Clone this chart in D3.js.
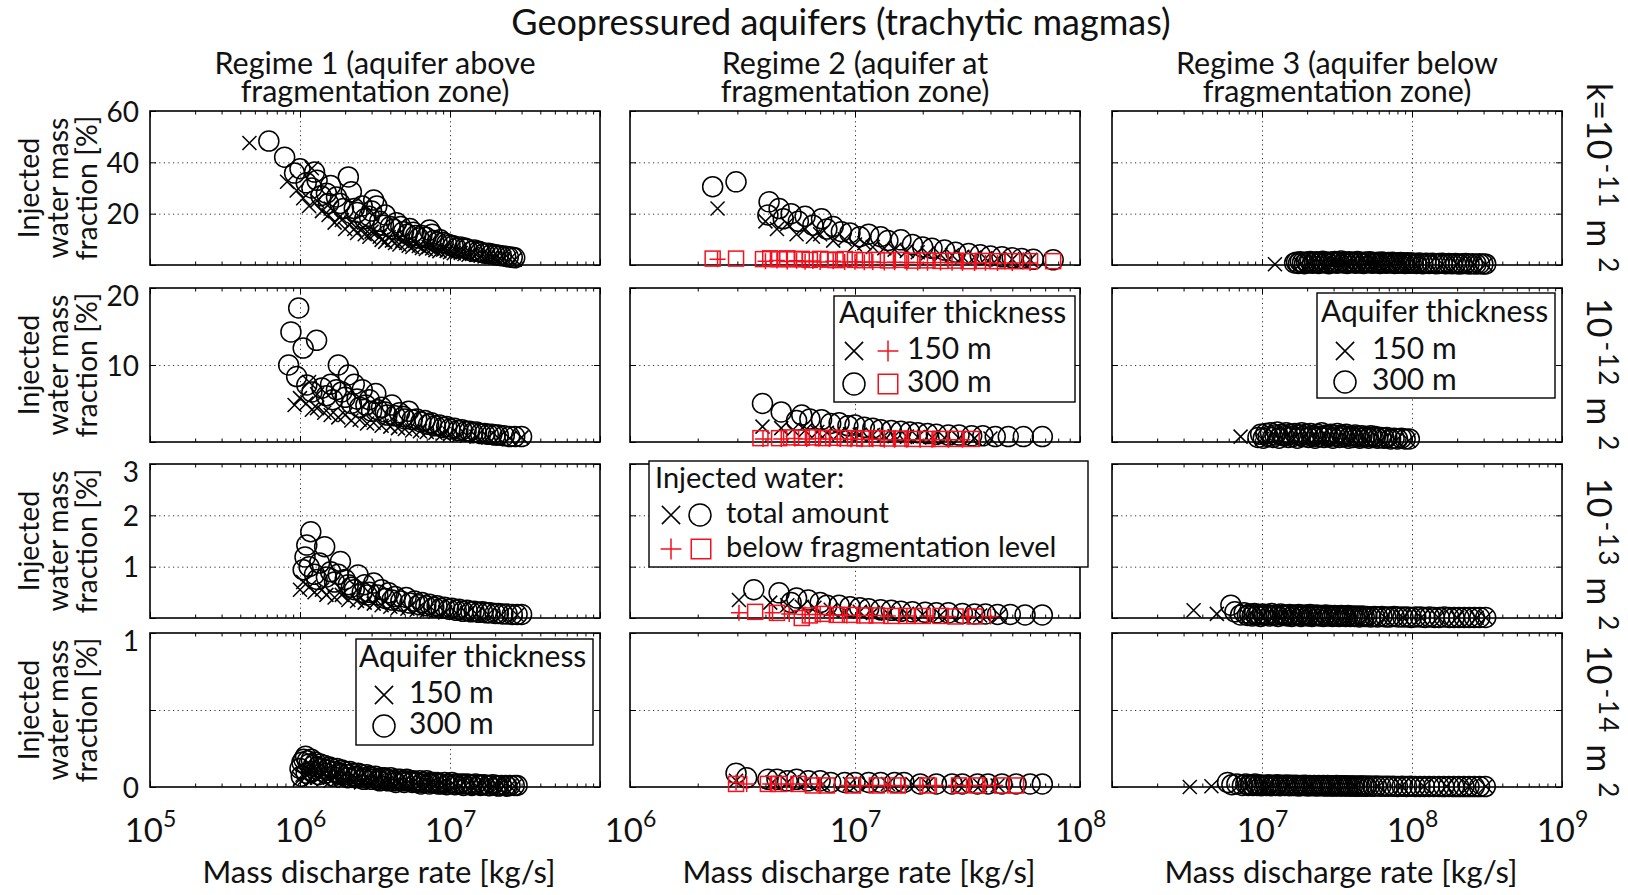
<!DOCTYPE html>
<html>
<head>
<meta charset="utf-8">
<script src="https://cdn.jsdelivr.net/npm/d3@7"></script>
<style>
  body { margin: 0; background: #fff; }
  svg { display: block; font-family: Lato, "Open Sans", sans-serif; }
</style>
</head>
<body>
<div id="main"></div>
<script>
// ---- axis setup ----
const xDomains = [[1e5, 1e8], [1e6, 1e8], [1e6, 1e9]];
const xLabelExps = [[5, 6, 7], [6, 7, 8], [7, 8, 9]];
const yMax = [60, 20, 3, 1];
const yTickVals = [[0, 20, 40, 60], [0, 10, 20], [0, 1, 2, 3], [0, 0.5, 1]];
const yTickLabels = [[20, 40, 60], [10, 20], [1, 2, 3], [0, 1]];
const yGridVals = [[20, 40], [10], [1, 2], [0.5]];

const mainTitle = "Geopressured aquifers (trachytic magmas)";
const regimeTitles = [
  ["Regime 1 (aquifer above", "fragmentation zone)"],
  ["Regime 2 (aquifer at", "fragmentation zone)"],
  ["Regime 3 (aquifer below", "fragmentation zone)"]
];
const yLabelLines = ["Injected", "water mass", "fraction [%]"];
const xTitle = "Mass discharge rate [kg/s]";
const permPrefix = ["k=10", "10", "10", "10"];
const permExps = ["-11", "-12", "-13", "-14"];
const legendTitle = "Aquifer thickness";
const thicknessLabels = ["150 m", "300 m"];
const waterLabels = ["Injected water:", "total amount", "below fragmentation level"];

// ---- data: [mass discharge rate kg/s, injected water mass fraction %] ----
// row 1: k = 1e-11 m2
const p11_cross = [[4.6e5,47.5],[8.2e5,32.4],[9.5e5,29],[1.05e6,26],[1.2e6,37.7],[1.15e6,23],[1.3e6,25],[1.4e6,21],[1.55e6,19.5],[1.7e6,16.5],[1.85e6,19],[2.0e6,14],[2.2e6,16.5],[2.4e6,12.5],[2.65e6,14.5],[2.9e6,11],[3.2e6,12.5],[3.5e6,9.8],[3.9e6,10.8],[4.3e6,8.6],[4.8e6,9.4],[5.3e6,7.5],[5.9e6,8.2],[6.5e6,6.6],[7.2e6,7],[8e6,5.8],[9e6,6],[1.0e7,5],[1.12e7,5.1],[1.25e7,4.3],[1.4e7,4.3],[1.6e7,3.6],[1.8e7,3.4],[2.0e7,2.9],[2.3e7,2.7],[2.7e7,2.1],
  [1.6e6,22],[1.9e6,17.5],[2.3e6,14],[2.7e6,12],[3.0e6,13],[3.4e6,11],[3.7e6,9],[4.1e6,9.5],[4.6e6,8],[5.1e6,8.6],[5.6e6,7],[6.2e6,7.4],[6.9e6,6.2],[7.6e6,6.4],[8.5e6,5.4],[9.5e6,5.5],[1.06e7,4.6],[1.18e7,4.7],[1.33e7,4],[1.5e7,3.9],[1.7e7,3.3],[1.9e7,3.1],[2.15e7,2.6],[2.5e7,2.3]];
const p11_circle = [[6.2e5,48.3],[7.9e5,42],[9.2e5,35.8],[1.0e6,37.5],[1.1e6,32],[1.2e6,30],[1.25e6,36.2],[1.38e6,27],[1.55e6,24],[1.6e6,31],[1.75e6,26.5],[1.95e6,22],[2.1e6,34.3],[2.2e6,28.5],[2.4e6,20.5],[2.6e6,23],[2.9e6,19],[3.1e6,25.3],[3.25e6,23],[3.4e6,17],[3.7e6,19.5],[4.0e6,15],[4.4e6,16.5],[4.9e6,13],[5.4e6,14.2],[5.9e6,11.5],[6.5e6,11.5],[7.3e6,13.6],[7.8e6,9.5],[8.6e6,9.8],[9.5e6,8.3],[1.05e7,7.5],[1.17e7,7],[1.3e7,6.2],[1.45e7,5.8],[1.6e7,5],[1.8e7,4.6],[2.0e7,4],[2.2e7,3.6],[2.45e7,3.2],[2.7e7,2.8],
  [1.3e6,33],[1.5e6,28],[1.85e6,24],[2.3e6,22],[2.7e6,18],[3.0e6,21],[3.6e6,15.5],[4.2e6,14],[4.7e6,15],[5.2e6,12],[5.7e6,12.8],[6.2e6,10.5],[6.9e6,10.8],[7.6e6,12],[8.2e6,8.8],[9e6,8.8],[1.0e7,7.8],[1.1e7,6.6],[1.25e7,6.6],[1.4e7,5.4],[1.55e7,5.4],[1.7e7,4.6],[1.9e7,4.3],[2.1e7,3.8],[2.35e7,3.4],[2.6e7,3.0]];
const p12_cross = [[2.45e6,22],[4e6,17],[4.5e6,14],[5e6,16],[5.5e6,12],[6e6,14],[6.5e6,11],[7e6,12],[8e6,9.5],[9e6,10],[1e7,8],[1.1e7,8.5],[1.2e7,7],[1.35e7,6.5],[1.5e7,6],[1.7e7,5.5],[1.9e7,5],[2.1e7,4.5],[2.4e7,4],[2.7e7,3.8],[3e7,3.2],[3.4e7,3],[3.8e7,2.6],[4.3e7,2.4],[5e7,2.2],[6e7,2]];
const p12_circle = [[2.33e6,30.5],[2.96e6,32.4],[4.15e6,24.6],[4.1e6,19.5],[4.6e6,22],[4.8e6,18],[5.2e6,20],[5.6e6,17],[6e6,19],[6.5e6,15.5],[7.1e6,18],[7.5e6,14],[8e6,15],[8.7e6,13],[9.5e6,12.5],[1.05e7,11],[1.15e7,12],[1.3e7,11],[1.4e7,9.5],[1.6e7,9.8],[1.8e7,8],[2e7,7],[2.2e7,6.5],[2.5e7,5.8],[2.8e7,5],[3.2e7,4.5],[3.6e7,4],[4e7,3.5],[4.5e7,3.2],[5e7,2.8],[5.5e7,2.5],[6.2e7,2.2],[7.6e7,2]];
const p12_plus = [[2.45e6,2.2],[4e6,1.5],[4.5e6,1.8],[5e6,1.4],[5.5e6,1.7],[6e6,1.3],[6.5e6,1.6],[7e6,1.2],[8e6,1.5],[9e6,1.2],[1e7,1.3],[1.1e7,1.1],[1.2e7,1.2],[1.35e7,1],[1.5e7,1.1],[1.7e7,1],[1.9e7,1],[2.1e7,0.9],[2.4e7,1],[2.7e7,0.9],[3e7,0.9],[3.4e7,0.8],[3.8e7,0.9],[4.3e7,0.8],[5e7,0.8],[6e7,0.8]];
const p12_square = [[2.33e6,2.5],[2.96e6,2.5],[3.9e6,2.3],[4.2e6,2.6],[4.6e6,2.2],[5e6,2.6],[5.4e6,2.2],[5.8e6,2.4],[6.3e6,2],[7e6,2.4],[7.6e6,2.1],[8.2e6,1.9],[9e6,2.3],[1e7,2],[1.1e7,1.9],[1.25e7,2],[1.4e7,1.8],[1.6e7,2],[1.8e7,1.7],[2.1e7,1.8],[2.4e7,1.6],[2.8e7,1.7],[3.2e7,1.5],[3.7e7,1.6],[4.3e7,1.5],[5e7,1.5],[6e7,1.5],[7.6e7,1.5]];
const p13_cross = [[1.22e7,0.3],[1.8e7,0.4],[2.1e7,0.5],[2.5e7,0.4],[3e7,0.5],[3.6e7,0.4],[4.3e7,0.5],[5.1e7,0.4],[6e7,0.4],[7.2e7,0.4],[8.7e7,0.3],[1.05e8,0.3],[1.3e8,0.3],[1.6e8,0.3],[2e8,0.3],[2.6e8,0.2],[3.1e8,0.2]];
const p13_circle_x = [1.65e7,1.70e7,1.75e7,1.80e7,1.86e7,1.92e7,1.98e7,2.04e7,2.10e7,2.17e7,2.24e7,2.31e7,2.38e7,2.46e7,2.54e7,2.62e7,2.70e7,2.79e7,2.88e7,2.97e7,3.06e7,3.16e7,3.26e7,3.37e7,3.48e7,3.59e7,3.70e7,3.82e7,3.94e7,4.07e7,4.20e7,4.34e7,4.48e7,4.62e7,4.77e7,4.92e7,5.08e7,5.24e7,5.41e7,5.58e7,5.76e7,5.95e7,6.14e7,6.34e7,6.54e7,6.75e7,6.97e7,7.19e7,7.42e7,7.66e7,7.91e7,8.16e7,8.42e7,8.69e7,8.97e7,9.26e7,9.56e7,9.87e7,1.02e8,1.07e8,1.12e8,1.18e8,1.24e8,1.30e8,1.37e8,1.44e8,1.51e8,1.59e8,1.67e8,1.76e8,1.85e8,1.95e8,2.05e8,2.16e8,2.28e8,2.40e8,2.53e8,2.67e8,2.82e8,2.97e8,3.10e8];
const p13_circle_y = [0.8,1.1,0.6,1.3,0.9,0.5,1.2,0.8,1.4,0.7,1.0,1.3,0.6,0.9,1.5,0.8,1.1,0.5,1.2,0.9,1.4,0.7,1.0,1.6,0.8,1.2,0.6,1.3,0.9,1.1,0.7,1.4,0.8,1.0,0.6,1.2,0.9,1.3,0.7,1.0,0.8,1.1,0.6,1.2,0.9,0.7,1.0,0.8,1.1,0.6,0.9,0.7,1.0,0.8,0.6,0.9,0.7,0.8,0.7,0.6,0.8,0.5,0.7,0.6,0.7,0.5,0.6,0.7,0.5,0.6,0.5,0.6,0.4,0.5,0.6,0.4,0.5,0.4,0.5,0.4,0.4];

// row 2: k = 1e-12 m2
const p21_cross = [[9.2e5,4.8],[1.0e6,5.7],[1.1e6,5],[1.15e6,7.8],[1.2e6,4.2],[1.3e6,6.2],[1.3e6,4.4],[1.45e6,3.8],[1.6e6,3.5],[1.8e6,3.2],[2e6,3.5],[2.2e6,2.8],[2.5e6,2.9],[2.8e6,2.4],[3.1e6,2.5],[3.5e6,2.1],[4e6,2],[4.5e6,1.8],[5e6,1.7],[5.6e6,1.5],[6.3e6,1.4],[7e6,1.3],[8e6,1.2],[9e6,1.1],[1e7,1],[1.15e7,0.9],[1.3e7,0.8],[1.5e7,0.7],[1.8e7,0.6],[2.1e7,0.5],[2.5e7,0.5],[3e7,0.6]];
const p21_circle = [[8.4e5,10],[8.7e5,14.3],[9.5e5,8.5],[9.8e5,17.4],[1.05e6,12.2],[1.11e6,7.4],[1.29e6,13.2],[1.2e6,6.5],[1.4e6,7],[1.5e6,6],[1.8e6,10],[1.65e6,5.5],[2.1e6,8.7],[1.9e6,6.5],[2.3e6,7.5],[2.2e6,5],[2.6e6,6.8],[2.5e6,4.5],[2.9e6,5.5],[3.2e6,6.3],[3e6,4],[3.5e6,4.5],[4.1e6,4.8],[3.8e6,3.5],[4.6e6,3.8],[5.3e6,4],[5e6,3],[6e6,3],[6.8e6,2.8],[7.5e6,2.5],[8.5e6,2.2],[9.5e6,2],[1.07e7,1.8],[1.2e7,1.6],[1.35e7,1.4],[1.5e7,1.3],[1.7e7,1.1],[1.9e7,1],[2.1e7,0.9],[2.5e7,0.7],[3e7,0.7],
  [1.6e6,7.5],[1.75e6,6.8],[2.0e6,5.8],[2.4e6,5.6],[2.75e6,4.8],[3.3e6,4.2],[3.7e6,3.9],[4.3e6,3.4],[4.9e6,3.3],[5.6e6,2.9],[6.4e6,2.6],[7.2e6,2.3],[8e6,2.1],[9e6,1.9],[1.0e7,1.7],[1.13e7,1.5],[1.28e7,1.4],[1.42e7,1.2],[1.6e7,1.1],[1.8e7,1.0],[2.0e7,0.9],[2.3e7,0.8],[2.7e7,0.7]];
const p22_cross = [[3.88e6,2.0],[4.7e6,1.8],[5.3e6,1.6],[6e6,1.5],[6.8e6,1.3],[7.5e6,1.2],[8.5e6,1.1],[9.5e6,1.0],[1.05e7,0.95],[1.2e7,0.9],[1.35e7,0.8],[1.5e7,0.75],[1.7e7,0.7],[1.9e7,0.65],[2.2e7,0.6],[2.5e7,0.55],[2.9e7,0.5],[3.4e7,0.5],[4e7,0.45]];
const p22_circle = [[3.88e6,5.0],[4.7e6,3.9],[5.8e6,3.5],[5.5e6,2.8],[6.3e6,3.0],[7.1e6,2.9],[7.8e6,2.4],[8.5e6,2.5],[9.3e6,2.1],[1.0e7,2.2],[1.1e7,1.9],[1.2e7,1.8],[1.3e7,1.6],[1.45e7,1.5],[1.6e7,1.4],[1.75e7,1.3],[1.9e7,1.2],[2.1e7,1.1],[2.3e7,1.0],[2.6e7,0.9],[2.9e7,0.9],[3.3e7,0.8],[3.7e7,0.8],[4.2e7,0.7],[4.8e7,0.7],[5.6e7,0.7],[6.8e7,0.7]];
const p22_plus = [[3.9e6,0.4],[4.7e6,0.4],[5.4e6,0.45],[6.1e6,0.4],[6.9e6,0.45],[7.7e6,0.4],[8.6e6,0.4],[9.6e6,0.35],[1.07e7,0.35],[1.2e7,0.35],[1.35e7,0.3],[1.5e7,0.3],[1.7e7,0.3],[1.95e7,0.3],[2.2e7,0.3],[2.6e7,0.3],[3e7,0.3]];
const p22_square = [[3.8e6,0.5],[4.6e6,0.5],[5.2e6,0.6],[5.8e6,0.55],[6.5e6,0.6],[7.2e6,0.5],[8e6,0.55],[9e6,0.5],[1e7,0.5],[1.1e7,0.45],[1.25e7,0.5],[1.4e7,0.45],[1.6e7,0.45],[1.8e7,0.4],[2.1e7,0.4],[2.4e7,0.4],[2.8e7,0.4],[3.3e7,0.4]];
const p23_cross = [[7.2e6,0.7],[1.0e7,0.4],[1.3e7,0.4],[1.6e7,0.3],[2e7,0.3],[2.5e7,0.3],[3.1e7,0.3],[3.9e7,0.2],[4.9e7,0.2],[6.2e7,0.2],[7.8e7,0.2],[9.5e7,0.2]];
const p23_circle_x = [9.4e6,9.8e6,1.02e7,1.06e7,1.10e7,1.14e7,1.18e7,1.22e7,1.26e7,1.30e7,1.35e7,1.40e7,1.45e7,1.50e7,1.55e7,1.60e7,1.66e7,1.72e7,1.78e7,1.84e7,1.90e7,1.97e7,2.04e7,2.11e7,2.18e7,2.26e7,2.34e7,2.42e7,2.50e7,2.59e7,2.68e7,2.77e7,2.87e7,2.97e7,3.07e7,3.18e7,3.29e7,3.40e7,3.52e7,3.64e7,3.77e7,3.90e7,4.04e7,4.18e7,4.33e7,4.48e7,4.64e7,4.80e7,4.97e7,5.14e7,5.32e7,5.51e7,5.70e7,5.90e7,6.2e7,6.5e7,6.8e7,7.2e7,7.6e7,8.0e7,8.5e7,9.0e7,9.6e7];
const p23_circle_y = [0.6,1.0,0.5,1.1,0.7,1.2,0.6,0.9,1.3,0.5,1.0,0.8,1.2,0.6,1.0,0.7,1.1,0.5,0.9,1.2,0.7,1.0,0.6,1.1,0.8,0.5,1.0,0.7,1.2,0.6,0.9,0.7,1.0,0.5,0.8,1.1,0.6,0.9,0.7,1.0,0.5,0.8,0.6,0.9,0.7,0.5,0.8,0.6,0.7,0.5,0.8,0.6,0.7,0.5,0.6,0.5,0.6,0.4,0.5,0.4,0.5,0.4,0.4];

// row 3: k = 1e-13 m2
const p31_cross = [[1.0e6,0.55],[1.05e6,0.7],[1.15e6,0.6],[1.25e6,0.5],[1.4e6,0.55],[1.5e6,0.45],[1.7e6,0.4],[1.9e6,0.45],[2.1e6,0.35],[2.4e6,0.33],[2.7e6,0.3],[3.1e6,0.28],[3.5e6,0.25],[4e6,0.22],[4.5e6,0.2],[5.2e6,0.18],[6e6,0.16],[7e6,0.14],[8e6,0.12],[9.3e6,0.11],[1.1e7,0.1],[1.3e7,0.09],[1.5e7,0.08],[1.8e7,0.07],[2.2e7,0.06],[2.8e7,0.06]];
const p31_circle = [[1.18e6,1.68],[1.11e6,1.42],[1.46e6,1.39],[1.08e6,1.19],[1.35e6,1.07],[1.05e6,0.94],[1.25e6,0.85],[1.86e6,1.1],[1.6e6,0.9],[2.0e6,0.75],[2.44e6,0.84],[2.2e6,0.6],[2.7e6,0.65],[3.1e6,0.68],[2.9e6,0.5],[3.5e6,0.55],[3.9e6,0.49],[4.3e6,0.42],[5.1e6,0.4],[5.8e6,0.33],[6.5e6,0.3],[7.3e6,0.27],[8.2e6,0.24],[9.2e6,0.21],[1.03e7,0.19],[1.15e7,0.17],[1.3e7,0.15],[1.45e7,0.13],[1.65e7,0.12],[1.85e7,0.1],[2.1e7,0.09],[2.4e7,0.08],[2.8e7,0.07],[3e7,0.07],
  [1.15e6,1.0],[1.3e6,0.75],[1.5e6,0.8],[1.7e6,0.7],[1.8e6,0.85],[2.1e6,0.65],[2.3e6,0.55],[2.6e6,0.5],[2.8e6,0.45],[3.3e6,0.45],[3.7e6,0.38],[4.1e6,0.35],[4.7e6,0.33],[5.4e6,0.29],[6.2e6,0.26],[6.9e6,0.24],[7.8e6,0.21],[8.7e6,0.19],[9.8e6,0.17],[1.1e7,0.15],[1.22e7,0.13],[1.38e7,0.12],[1.55e7,0.11],[1.75e7,0.1],[2e7,0.09],[2.25e7,0.08],[2.6e7,0.07]];
const p32_cross = [[3.05e6,0.35],[4.2e6,0.3],[5e6,0.25],[5.8e6,0.22],[6.6e6,0.2],[7.8e6,0.16],[9e6,0.14],[1.05e7,0.12],[1.2e7,0.1],[1.4e7,0.09],[1.7e7,0.08],[2e7,0.07],[2.4e7,0.06],[3e7,0.06],[3.6e7,0.05],[4.4e7,0.05]];
const p32_circle = [[3.55e6,0.55],[4.6e6,0.49],[5.5e6,0.39],[5.2e6,0.3],[6.2e6,0.35],[7e6,0.3],[7.5e6,0.25],[8.5e6,0.25],[9.5e6,0.22],[1.05e7,0.2],[1.15e7,0.18],[1.3e7,0.16],[1.45e7,0.15],[1.6e7,0.13],[1.8e7,0.12],[2.05e7,0.11],[2.3e7,0.1],[2.6e7,0.1],[3e7,0.09],[3.4e7,0.08],[3.8e7,0.08],[4.3e7,0.07],[4.9e7,0.07],[5.7e7,0.06],[6.8e7,0.06]];
const p32_plus = [[3.05e6,0.1],[4.3e6,0.1],[5.1e6,0.08],[6e6,0.07],[7e6,0.07],[8e6,0.06],[9.2e6,0.05],[1.05e7,0.05],[1.2e7,0.05],[1.4e7,0.04],[1.7e7,0.04],[2.1e7,0.04],[2.6e7,0.03],[3.2e7,0.03],[4e7,0.03]];
const p32_square = [[3.6e6,0.12],[4.5e6,0.1],[5.8e6,0],[6.3e6,0.05],[7.2e6,0.08],[8.3e6,0.06],[9.5e6,0.06],[1.1e7,0.05],[1.25e7,0.05],[1.45e7,0.04],[1.7e7,0.04],[2e7,0.04],[2.4e7,0.04],[2.8e7,0.03],[3.4e7,0.03]];
const p33_cross = [[3.5e6,0.15],[5.0e6,0.08],[8e6,0.03],[1e7,0.03],[1.3e7,0.02],[1.7e7,0.02],[2.2e7,0.02],[2.9e7,0.02],[3.8e7,0.01],[5e7,0.01],[6.6e7,0.01],[8.7e7,0.01],[1.15e8,0.01],[1.5e8,0.01],[2e8,0.005],[2.7e8,0.005],[3.1e8,0.005]];
const p33_circle_x = [6.2e6,6.6e6,7.2e6,7.6e6,8.0e6,8.3e6,8.6e6,8.9e6,9.2e6,9.5e6,9.8e6,1.01e7,1.04e7,1.08e7,1.12e7,1.16e7,1.20e7,1.24e7,1.28e7,1.33e7,1.38e7,1.43e7,1.48e7,1.53e7,1.58e7,1.64e7,1.70e7,1.76e7,1.82e7,1.88e7,1.95e7,2.02e7,2.09e7,2.16e7,2.24e7,2.32e7,2.40e7,2.48e7,2.57e7,2.66e7,2.75e7,2.85e7,2.95e7,3.05e7,3.16e7,3.27e7,3.38e7,3.50e7,3.62e7,3.75e7,3.88e7,4.02e7,4.16e7,4.31e7,4.46e7,4.62e7,4.80e7,5.0e7,5.3e7,5.6e7,5.9e7,6.3e7,6.7e7,7.1e7,7.6e7,8.1e7,8.7e7,9.3e7,9.9e7,1.06e8,1.14e8,1.22e8,1.31e8,1.41e8,1.52e8,1.64e8,1.77e8,1.91e8,2.06e8,2.23e8,2.41e8,2.61e8,2.83e8,3.10e8];
const p33_circle_y = [0.25,0.12,0.06,0.1,0.05,0.08,0.04,0.09,0.05,0.07,0.03,0.08,0.05,0.07,0.04,0.09,0.05,0.06,0.03,0.08,0.05,0.06,0.04,0.07,0.03,0.06,0.05,0.07,0.03,0.05,0.06,0.04,0.07,0.03,0.05,0.06,0.04,0.05,0.03,0.06,0.04,0.05,0.03,0.05,0.04,0.03,0.05,0.04,0.03,0.05,0.03,0.04,0.03,0.04,0.02,0.04,0.03,0.03,0.02,0.03,0.02,0.03,0.02,0.02,0.03,0.02,0.02,0.02,0.01,0.02,0.02,0.01,0.02,0.01,0.01,0.02,0.01,0.01,0.01,0.01,0.01,0.01,0.01,0.01];

// row 4: k = 1e-14 m2
const p41_cross = [[1.0e6,0.05],[1.04e6,0.08],[1.08e6,0.06],[1.13e6,0.09],[1.18e6,0.05],[1.24e6,0.08],[1.30e6,0.06],[1.37e6,0.07],[1.44e6,0.05],[1.52e6,0.07],[1.60e6,0.04],[1.69e6,0.06],[1.79e6,0.05],[1.90e6,0.06],[2.01e6,0.04],[2.13e6,0.05],[2.26e6,0.04],[2.40e6,0.05],[2.55e6,0.03],[2.71e6,0.04],[2.88e6,0.04],[3.06e6,0.03],[3.26e6,0.04],[3.47e6,0.03],[3.70e6,0.03],[3.95e6,0.03],[4.2e6,0.02],[4.5e6,0.03],[4.8e6,0.02],[5.1e6,0.02],[5.5e6,0.02],[5.9e6,0.02],[6.3e6,0.015],[6.8e6,0.02],[7.3e6,0.015],[7.9e6,0.015],[8.5e6,0.01],[9.2e6,0.015],[1.0e7,0.01],[1.08e7,0.01],[1.17e7,0.01],[1.27e7,0.01],[1.38e7,0.008],[1.5e7,0.008],[1.63e7,0.008],[1.77e7,0.006],[1.93e7,0.006],[2.1e7,0.005],[2.29e7,0.005],[2.5e7,0.005],[2.7e7,0.005]];
const p41_circle = [[1.02e6,0.07],[1.10e6,0.09],[1.20e6,0.1],[1.33e6,0.08],[1.48e6,0.09],[1.65e6,0.07],[1.85e6,0.08],[2.08e6,0.06],[2.35e6,0.06],[2.65e6,0.05],[3.0e6,0.05],[3.4e6,0.04],[3.85e6,0.04],[4.35e6,0.03],[4.95e6,0.03],[5.6e6,0.03],[6.4e6,0.02],[7.3e6,0.02],[8.3e6,0.02],[9.5e6,0.015],[1.08e7,0.015],[1.23e7,0.01],[1.4e7,0.01],[1.6e7,0.01],[1.83e7,0.008],[2.1e7,0.006],[2.4e7,0.005]];
const p41_upper_x = [1.00e6,1.03e6,1.06e6,1.09e6,1.12e6,1.15e6,1.19e6,1.23e6,1.27e6,1.31e6,1.36e6,1.41e6,1.46e6,1.51e6,1.57e6,1.63e6,1.69e6,1.76e6,1.83e6,1.90e6,1.98e6,2.06e6,2.15e6,2.24e6,2.34e6,2.44e6,2.55e6,2.66e6,2.78e6,2.91e6,3.04e6,3.18e6,3.33e6,3.49e6,3.66e6,3.84e6,4.03e6,4.23e6,4.44e6,4.66e6,4.9e6,5.15e6,5.4e6,5.7e6,6.0e6,6.3e6,6.6e6,7.0e6,7.4e6,7.8e6,8.2e6,8.7e6,9.2e6,9.7e6,1.03e7,1.09e7,1.16e7,1.23e7,1.31e7,1.39e7,1.48e7,1.58e7,1.69e7,1.80e7,1.93e7,2.06e7,2.20e7,2.35e7,2.51e7,2.68e7,2.80e7];
const p41_upper_y = [0.12,0.16,0.18,0.2,0.17,0.15,0.18,0.14,0.16,0.13,0.15,0.12,0.14,0.11,0.13,0.12,0.1,0.12,0.09,0.11,0.1,0.08,0.1,0.09,0.07,0.09,0.08,0.06,0.08,0.07,0.06,0.07,0.05,0.06,0.06,0.05,0.06,0.04,0.05,0.05,0.04,0.05,0.04,0.04,0.03,0.04,0.03,0.04,0.03,0.03,0.03,0.02,0.03,0.02,0.03,0.02,0.02,0.02,0.02,0.015,0.02,0.015,0.015,0.01,0.015,0.01,0.01,0.01,0.01,0.01,0.01];
const p42_cross = [[2.96e6,0.04],[4.3e6,0.03],[5e6,0.03],[6e6,0.03],[7.2e6,0.02],[9.5e6,0.02],[1.15e7,0.02],[1.4e7,0.02],[1.8e7,0.02],[2.1e7,0.02],[2.9e7,0.01],[3.6e7,0.01],[4.3e7,0.01]];
const p42_circle = [[2.96e6,0.09],[3.3e6,0.06],[4.1e6,0.05],[4.5e6,0.05],[5e6,0.04],[5.5e6,0.05],[6.2e6,0.04],[7e6,0.04],[7.8e6,0.03],[9e6,0.03],[1.0e7,0.03],[1.15e7,0.03],[1.3e7,0.03],[1.5e7,0.03],[1.65e7,0.03],[1.95e7,0.02],[2.3e7,0.02],[2.7e7,0.02],[3.0e7,0.02],[3.5e7,0.02],[3.9e7,0.02],[4.5e7,0.02],[5.2e7,0.02],[6.0e7,0.02],[6.8e7,0.02]];
const p42_plus = [[2.96e6,0.03],[3.3e6,0.02],[4.2e6,0.02],[4.7e6,0.02],[5.3e6,0.02],[6e6,0.02],[6.8e6,0.02],[9.2e6,0.01],[1.05e7,0.01],[1.2e7,0.01],[1.4e7,0.01],[1.6e7,0.01],[2.0e7,0.01],[2.3e7,0.01],[2.8e7,0.01],[3.2e7,0.01],[3.7e7,0.01],[4.2e7,0.01]];
const p42_square = [[2.96e6,0.02],[4.1e6,0.02],[4.6e6,0.02],[5.6e6,0.02],[6.5e6,0.01],[7.5e6,0.01],[9.8e6,0.01],[1.25e7,0.01],[1.55e7,0.01],[2.1e7,0.01],[2.9e7,0.01],[3.5e7,0.01],[4.5e7,0.01],[5.2e7,0.01]];
const p43_cross = [[3.3e6,0.0],[4.6e6,0.005],[8e6,0.005],[1.1e7,0.005],[1.5e7,0.005],[2.1e7,0.005],[3e7,0.005],[4.2e7,0.005],[6e7,0.005],[8.5e7,0.005],[1.2e8,0.005],[1.7e8,0.005],[2.4e8,0.005],[3.1e8,0.005]];
const p43_circle_x = [5.9e6,6.3e6,6.8e6,7.4e6,7.8e6,8.1e6,8.4e6,8.7e6,9.0e6,9.3e6,9.6e6,9.9e6,1.03e7,1.07e7,1.11e7,1.15e7,1.19e7,1.23e7,1.27e7,1.32e7,1.37e7,1.42e7,1.47e7,1.52e7,1.57e7,1.63e7,1.69e7,1.75e7,1.81e7,1.87e7,1.94e7,2.01e7,2.08e7,2.15e7,2.23e7,2.31e7,2.39e7,2.47e7,2.56e7,2.65e7,2.74e7,2.84e7,2.94e7,3.04e7,3.15e7,3.26e7,3.37e7,3.49e7,3.61e7,3.74e7,3.87e7,4.01e7,4.15e7,4.30e7,4.45e7,4.61e7,4.78e7,4.96e7,5.2e7,5.5e7,5.8e7,6.2e7,6.6e7,7.0e7,7.5e7,8.0e7,8.6e7,9.2e7,9.8e7,1.05e8,1.13e8,1.21e8,1.30e8,1.40e8,1.51e8,1.63e8,1.76e8,1.90e8,2.05e8,2.22e8,2.40e8,2.60e8,2.82e8,3.08e8];
const p43_circle_y = [0.03,0.015,0.02,0.01,0.02,0.01,0.015,0.01,0.02,0.01,0.015,0.008,0.012,0.01,0.015,0.008,0.012,0.01,0.014,0.008,0.012,0.01,0.013,0.008,0.011,0.009,0.012,0.007,0.01,0.009,0.011,0.007,0.01,0.008,0.01,0.007,0.009,0.008,0.01,0.006,0.009,0.007,0.008,0.006,0.009,0.007,0.008,0.006,0.008,0.006,0.007,0.006,0.007,0.005,0.007,0.006,0.006,0.005,0.006,0.005,0.006,0.005,0.005,0.005,0.005,0.004,0.005,0.004,0.005,0.004,0.004,0.004,0.004,0.004,0.004,0.003,0.004,0.003,0.003,0.003,0.003,0.003,0.003,0.003];

// ---- page layout ----
const W = 1628, H = 895;
const colLeft = [150, 630, 1112];
const colWidth = 450;
const rowTop = [111, 288, 464, 633];
const rowHeight = 154;
const RED = "#f5101e";
const FONT = "Lato, 'Open Sans', sans-serif";

const panels = [
  {r: 0, c: 0, cross: p11_cross, circle: p11_circle},
  {r: 0, c: 1, cross: p12_cross, circle: p12_circle, plus: p12_plus, square: p12_square},
  {r: 0, c: 2, cross: p13_cross, circle: d3.zip(p13_circle_x, p13_circle_y)},
  {r: 1, c: 0, cross: p21_cross, circle: p21_circle},
  {r: 1, c: 1, cross: p22_cross, circle: p22_circle, plus: p22_plus, square: p22_square},
  {r: 1, c: 2, cross: p23_cross, circle: d3.zip(p23_circle_x, p23_circle_y)},
  {r: 2, c: 0, cross: p31_cross, circle: p31_circle},
  {r: 2, c: 1, cross: p32_cross, circle: p32_circle, plus: p32_plus, square: p32_square},
  {r: 2, c: 2, cross: p33_cross, circle: d3.zip(p33_circle_x, p33_circle_y)},
  {r: 3, c: 0, cross: p41_cross, circle: p41_circle.concat(d3.zip(p41_upper_x, p41_upper_y))},
  {r: 3, c: 1, cross: p42_cross, circle: p42_circle, plus: p42_plus, square: p42_square},
  {r: 3, c: 2, cross: p43_cross, circle: d3.zip(p43_circle_x, p43_circle_y)}
];

const svg = d3.select("#main").append("svg")
  .attr("width", W).attr("height", H)
  .style("font-family", FONT);

// marker helpers
function crossPath(cx, cy, a) {
  return `M${cx - a},${cy - a}L${cx + a},${cy + a}M${cx - a},${cy + a}L${cx + a},${cy - a}`;
}
function plusPath(cx, cy, a) {
  return `M${cx - a},${cy}L${cx + a},${cy}M${cx},${cy - a}L${cx},${cy + a}`;
}
function marker(g, type, cx, cy, big) {
  const k = big ? 1.3 : 1;
  if (type === "cross") {
    g.append("path").attr("d", crossPath(cx, cy, 7 * k))
      .attr("stroke", "#000").attr("stroke-width", 1.5).attr("fill", "none");
  } else if (type === "circle") {
    g.append("circle").attr("cx", cx).attr("cy", cy).attr("r", big ? 11 : 10)
      .attr("stroke", "#000").attr("stroke-width", 1.5).attr("fill", "none");
  } else if (type === "plus") {
    g.append("path").attr("d", plusPath(cx, cy, 8 * k))
      .attr("stroke", RED).attr("stroke-width", 1.5).attr("fill", "none");
  } else if (type === "square") {
    const a = 7.5 * k;
    g.append("rect").attr("x", cx - a).attr("y", cy - a).attr("width", 2 * a).attr("height", 2 * a)
      .attr("stroke", RED).attr("stroke-width", 1.5).attr("fill", "none");
  }
}

panels.forEach(p => {
  const x0 = colLeft[p.c], x1 = x0 + colWidth;
  const y0 = rowTop[p.r], y1 = y0 + rowHeight;
  const x = d3.scaleLog().domain(xDomains[p.c]).range([x0, x1]);
  const y = d3.scaleLinear().domain([0, yMax[p.r]]).range([y1, y0]);
  const g = svg.append("g");

  // dotted grid
  const isDecade = v => Math.abs(Math.log10(v) - Math.round(Math.log10(v))) < 1e-9;
  const decades = x.ticks().filter(isDecade);
  const inner = decades.filter(v => v > xDomains[p.c][0] * 1.001 && v < xDomains[p.c][1] * 0.999);
  g.append("g").attr("transform", `translate(0,${y1})`)
    .call(d3.axisBottom(x).tickValues(inner).tickSize(-rowHeight).tickFormat(""))
    .call(s => s.select(".domain").remove())
    .selectAll("line").attr("stroke", "#333").attr("stroke-width", 1).attr("stroke-dasharray", "1.2,3.4");
  g.append("g").attr("transform", `translate(${x0},0)`)
    .call(d3.axisLeft(y).tickValues(yGridVals[p.r]).tickSize(-colWidth).tickFormat(""))
    .call(s => s.select(".domain").remove())
    .selectAll("line").attr("stroke", "#333").attr("stroke-width", 1).attr("stroke-dasharray", "1.2,3.4");

  // inward ticks
  const minor = x.ticks().filter(v => !isDecade(v));
  [[d3.axisBottom, y1], [d3.axisTop, y0]].forEach(([ax, ty]) => {
    g.append("g").attr("transform", `translate(0,${ty})`)
      .call(ax(x).tickValues(decades).tickSize(-6).tickFormat(""))
      .call(s => s.select(".domain").remove())
      .selectAll("line").attr("stroke", "#000");
    g.append("g").attr("transform", `translate(0,${ty})`)
      .call(ax(x).tickValues(minor).tickSize(-3.5).tickFormat(""))
      .call(s => s.select(".domain").remove())
      .selectAll("line").attr("stroke", "#000");
  });
  [[d3.axisLeft, x0], [d3.axisRight, x1]].forEach(([ax, tx]) => {
    g.append("g").attr("transform", `translate(${tx},0)`)
      .call(ax(y).tickValues(yTickVals[p.r]).tickSize(-6).tickFormat(""))
      .call(s => s.select(".domain").remove())
      .selectAll("line").attr("stroke", "#000");
  });

  g.append("rect").attr("x", x0).attr("y", y0).attr("width", colWidth).attr("height", rowHeight)
    .attr("fill", "none").attr("stroke", "#000").attr("stroke-width", 1.6);

  // y tick labels on the first column
  if (p.c === 0) {
    const ya = g.append("g").attr("transform", `translate(${x0},0)`)
      .call(d3.axisLeft(y).tickValues(yTickLabels[p.r]).tickSize(0).tickPadding(11).tickFormat(d3.format("")));
    ya.select(".domain").remove();
    ya.selectAll("text").attr("font-size", 28).attr("font-family", FONT).attr("fill", "#111")
      .attr("dy", d => (d === yMax[p.r] && p.r > 0) ? "0.64em" : "0.36em");
  }

  // x tick labels on the bottom row
  if (p.r === 3) {
    const xa = g.append("g").attr("transform", `translate(0,${y1})`)
      .call(d3.axisBottom(x).tickValues(xLabelExps[p.c].map(e => Math.pow(10, e))).tickSize(0).tickFormat(""));
    xa.select(".domain").remove();
    xa.selectAll(".tick text").each(function(d) {
      const t = d3.select(this);
      t.attr("y", 842 - y1).attr("dy", 0).attr("font-size", 33).attr("font-family", FONT)
        .attr("fill", "#111").attr("text-anchor", "middle");
      t.append("tspan").text("10");
      t.append("tspan").attr("dy", -15).attr("font-size", 23).text(Math.round(Math.log10(d)));
    });
    svg.append("text").attr("x", (x0 + x1) / 2 + 4).attr("y", 883)
      .attr("text-anchor", "middle").attr("font-size", 31).attr("fill", "#111").text(xTitle);
  }

  // markers
  const m = g.append("g");
  p.cross.forEach(d => marker(m, "cross", x(d[0]), y(d[1])));
  p.circle.forEach(d => marker(m, "circle", x(d[0]), y(d[1])));
  if (p.plus) p.plus.forEach(d => marker(m, "plus", x(d[0]), y(d[1])));
  if (p.square) p.square.forEach(d => marker(m, "square", x(d[0]), y(d[1])));
});

// y labels for each row
rowTop.forEach(t => {
  const cy = t + rowHeight / 2;
  const lt = svg.append("text").attr("transform", `translate(0,${cy}) rotate(-90)`)
    .attr("text-anchor", "middle").attr("font-size", 28.5).attr("fill", "#111");
  [39, 68, 97].forEach((bx, i) => {
    lt.append("tspan").attr("x", 0).attr("y", bx).text(yLabelLines[i]);
  });
});

// titles
svg.append("text").attr("x", 841).attr("y", 35).attr("text-anchor", "middle")
  .attr("font-size", 36).attr("fill", "#111").text(mainTitle);
regimeTitles.forEach((lines, c) => {
  const cx = colLeft[c] + colWidth / 2;
  const tt = svg.append("text").attr("text-anchor", "middle").attr("font-size", 30.5).attr("fill", "#111");
  lines.forEach((s, i) => {
    tt.append("tspan").attr("x", cx).attr("y", 74 + i * 28).text(s);
  });
});

// permeability labels on the right
const permOffset = [-28, 10, 14, 12];
rowTop.forEach((t, r) => {
  const lt = svg.append("text").attr("transform", `translate(1587,${t + permOffset[r]}) rotate(90)`)
    .attr("font-size", 34).attr("fill", "#111");
  lt.append("tspan").text(permPrefix[r]);
  lt.append("tspan").attr("dx", 4).attr("dy", -12).attr("font-size", 26).attr("letter-spacing", 2).text(permExps[r]);
  lt.append("tspan").attr("dx", 10).attr("dy", 12).text("m");
  lt.append("tspan").attr("dx", 10).attr("dy", -12).attr("font-size", 26).text("2");
});

// legends
function legendBox(x, y, w, h) {
  svg.append("rect").attr("x", x).attr("y", y).attr("width", w).attr("height", h)
    .attr("fill", "#fff").attr("stroke", "#000").attr("stroke-width", 1.4);
}
function legendText(x, y, s, size) {
  svg.append("text").attr("x", x).attr("y", y).attr("font-size", size || 30).attr("fill", "#111").text(s);
}

// regime 2, k=1e-12
legendBox(834, 296, 241, 106);
legendText(839, 323, legendTitle);
marker(svg, "cross", 854, 351, true);
marker(svg, "plus", 888, 351, true);
legendText(907, 359, thicknessLabels[0]);
marker(svg, "circle", 854, 384, true);
marker(svg, "square", 888, 384, true);
legendText(907, 392, thicknessLabels[1]);

// regime 3, k=1e-12
legendBox(1317, 293, 238, 105);
legendText(1321, 322, legendTitle);
marker(svg, "cross", 1345, 351, true);
legendText(1372, 359, thicknessLabels[0]);
marker(svg, "circle", 1345, 382, true);
legendText(1372, 390, thicknessLabels[1]);

// regime 2, k=1e-13
legendBox(649, 461, 439, 106);
legendText(655, 488, waterLabels[0], 29);
marker(svg, "cross", 671, 515, true);
marker(svg, "circle", 700, 515, true);
legendText(726, 523, waterLabels[1], 29);
marker(svg, "plus", 671, 549, true);
marker(svg, "square", 701, 549, true);
legendText(726, 557, waterLabels[2], 29);

// regime 1, k=1e-14
legendBox(356, 639, 237, 106);
legendText(359, 667, legendTitle);
marker(svg, "cross", 384, 695, true);
legendText(409, 703, thicknessLabels[0]);
marker(svg, "circle", 384, 726, true);
legendText(409, 734, thicknessLabels[1]);
</script>
</body>
</html>
